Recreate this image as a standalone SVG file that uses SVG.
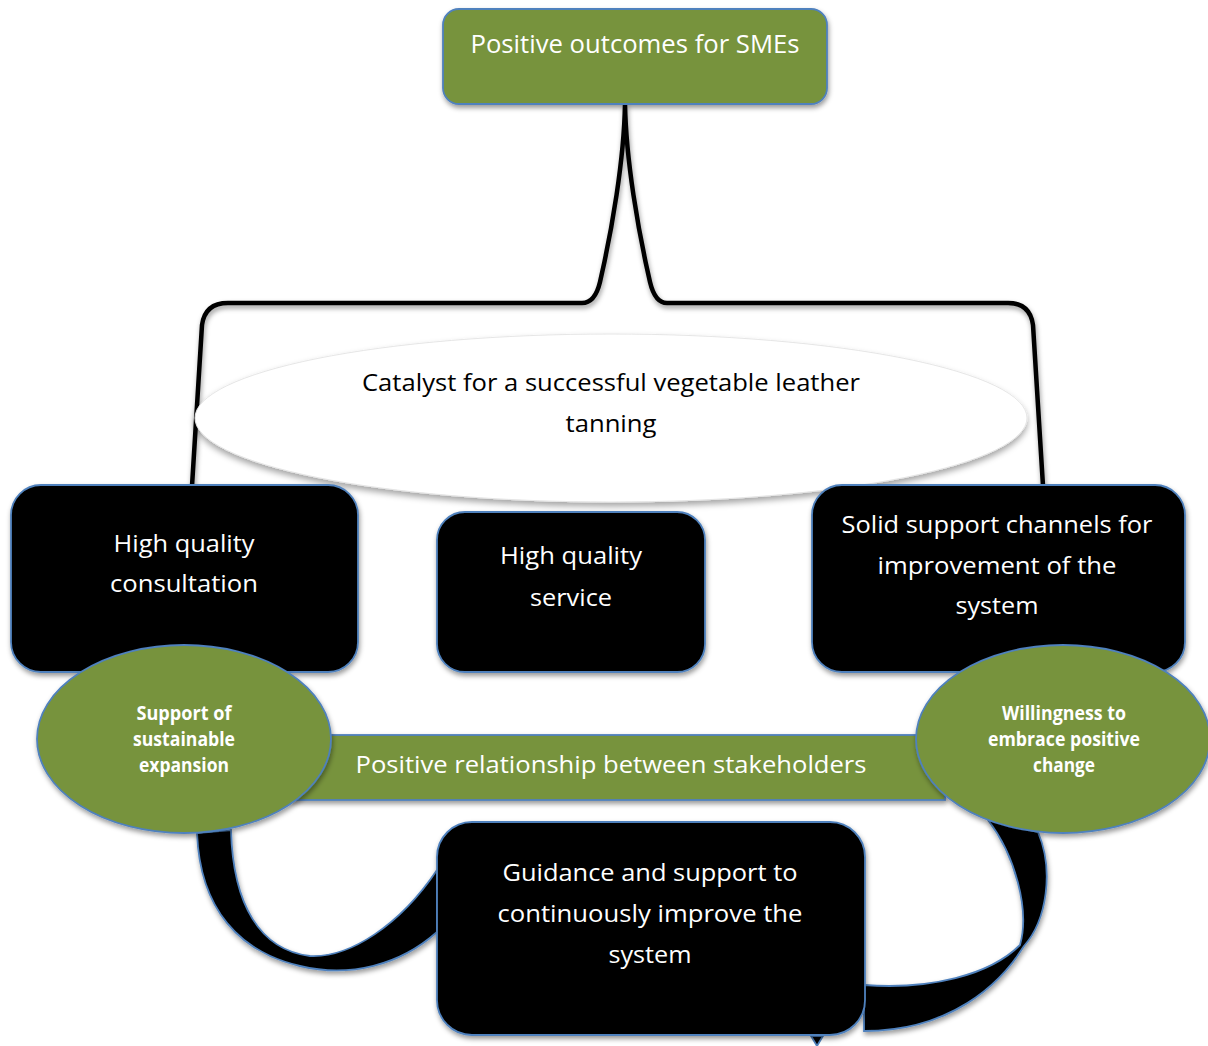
<svg xmlns="http://www.w3.org/2000/svg" width="1208" height="1046" viewBox="0 0 1208 1046">
<defs>
<filter id="sh" x="-10%" y="-10%" width="120%" height="130%">
<feDropShadow dx="1" dy="3" stdDeviation="2.5" flood-color="#000" flood-opacity="0.4"/>
</filter>
<filter id="esh" x="-5%" y="-20%" width="110%" height="150%">
<feDropShadow dx="0" dy="4" stdDeviation="3" flood-color="#000" flood-opacity="0.35"/>
</filter>
</defs>
<style>
.g{fill:#77933C;stroke:#4F81BD;stroke-width:1.8}
.b{fill:#000;stroke:#4F81BD;stroke-width:1.8}
.t{font-family:"Open Sans","Liberation Sans",sans-serif;font-size:23px;fill:#fff;text-anchor:middle}
.s{font-family:"Open Sans","Liberation Sans",sans-serif;font-size:19px;font-weight:bold;fill:#fff;text-anchor:middle}
.brace{fill:none;stroke:#000;stroke-width:4.5;stroke-linejoin:round}
</style>

<g id="connectors">
<path class="brace" filter="url(#sh)" d="M192,486 L202,325 Q205,303 228,303 L582,303 Q595,303 600,282 C612,230 624,160 625,104 M1043,486 L1033,325 Q1030,303 1008,303 L667,303 Q655,303 650,282 C638,230 626,160 625,104"/>
<path class="b" filter="url(#sh)" d="M197,833 C200,910 240,952 300,966 C350,978 400,965 437,932 L437,870 C400,925 350,958 310,956 C260,950 233,905 231,830 Z"/>
<path class="b" filter="url(#sh)" d="M1038,832 C1054,870 1047,920 1024,946 C1000,985 950,1031 864,1031 L864,985 C930,990 990,975 1020,945 C1030,910 1015,855 988,820 Z"/>
<polygon class="b" points="811,1036 823,1036 817,1046"/>
</g>

<g id="catalyst">
<ellipse cx="611" cy="418" rx="416" ry="84" fill="#fff" stroke="#e6e6e6" stroke-width="1" filter="url(#esh)"/>
<text class="t" style="fill:#000" x="611" y="391" textLength="498" lengthAdjust="spacingAndGlyphs">Catalyst for a successful vegetable leather</text>
<text class="t" style="fill:#000" x="611" y="432" textLength="91" lengthAdjust="spacingAndGlyphs">tanning</text>
</g>

<g id="top">
<rect class="g" x="443" y="9" width="384" height="95" rx="16" filter="url(#sh)"/>
<text class="t" x="635" y="53" style="font-size:25px" textLength="329" lengthAdjust="spacingAndGlyphs">Positive outcomes for SMEs</text>
</g>

<g id="consultation">
<rect class="b" x="11" y="485" width="347" height="187" rx="30" filter="url(#sh)"/>
<text class="t" x="184" y="552" textLength="141" lengthAdjust="spacingAndGlyphs">High quality</text>
<text class="t" x="184" y="592" textLength="148" lengthAdjust="spacingAndGlyphs">consultation</text>
</g>

<g id="service">
<rect class="b" x="437" y="512" width="268" height="160" rx="28" filter="url(#sh)"/>
<text class="t" x="571" y="564" textLength="142" lengthAdjust="spacingAndGlyphs">High quality</text>
<text class="t" x="571" y="606" textLength="82" lengthAdjust="spacingAndGlyphs">service</text>
</g>

<g id="channels">
<rect class="b" x="812" y="485" width="373" height="187" rx="30" filter="url(#sh)"/>
<text class="t" x="997" y="533" textLength="311" lengthAdjust="spacingAndGlyphs">Solid support channels for</text>
<text class="t" x="997" y="574" textLength="239" lengthAdjust="spacingAndGlyphs">improvement of the</text>
<text class="t" x="997" y="614" textLength="83" lengthAdjust="spacingAndGlyphs">system</text>
</g>

<g id="relationship">
<rect class="g" x="290" y="735" width="655" height="65" filter="url(#sh)"/>
<text class="t" x="611" y="773" textLength="511" lengthAdjust="spacingAndGlyphs">Positive relationship between stakeholders</text>
</g>

<g id="expansion">
<ellipse class="g" cx="184" cy="739" rx="147" ry="94" filter="url(#sh)"/>
<text class="s" x="184" y="720" textLength="95" lengthAdjust="spacingAndGlyphs">Support of</text>
<text class="s" x="184" y="746" textLength="102" lengthAdjust="spacingAndGlyphs">sustainable</text>
<text class="s" x="184" y="772" textLength="90" lengthAdjust="spacingAndGlyphs">expansion</text>
</g>

<g id="willingness">
<ellipse class="g" cx="1063" cy="739" rx="147" ry="94" filter="url(#sh)"/>
<text class="s" x="1064" y="720" textLength="124" lengthAdjust="spacingAndGlyphs">Willingness to</text>
<text class="s" x="1064" y="746" textLength="152" lengthAdjust="spacingAndGlyphs">embrace positive</text>
<text class="s" x="1064" y="772" textLength="62" lengthAdjust="spacingAndGlyphs">change</text>
</g>

<g id="guidance">
<rect class="b" x="437" y="822" width="428" height="213" rx="35" filter="url(#sh)"/>
<text class="t" x="650" y="881" textLength="295" lengthAdjust="spacingAndGlyphs">Guidance and support to</text>
<text class="t" x="650" y="922" textLength="305" lengthAdjust="spacingAndGlyphs">continuously improve the</text>
<text class="t" x="650" y="963" textLength="83" lengthAdjust="spacingAndGlyphs">system</text>
</g>
</svg>
